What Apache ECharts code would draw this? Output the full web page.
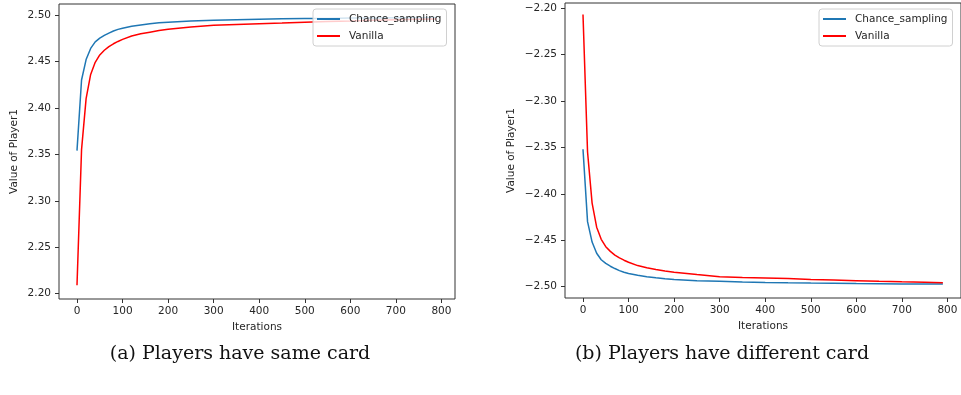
<!DOCTYPE html>
<html>
<head>
<meta charset="utf-8">
<script src="https://cdn.jsdelivr.net/npm/echarts@6/dist/echarts.min.js"></script>
<style>
  html, body { margin: 0; padding: 0; background: #fff; }
  #main { width: 961px; height: 395px; }
</style>
</head>
<body>
<div id="main"></div>
<script>
var iterations = [0, 10, 20, 30, 40, 50, 60, 70, 80, 90, 100, 120, 140, 160, 180, 200,
  250, 300, 350, 400, 450, 500, 550, 600, 650, 700, 750, 790];

// (a) players have same card
var chanceSame = [2.354, 2.430, 2.452, 2.464, 2.471, 2.475, 2.478, 2.4805, 2.4827, 2.4845, 2.4858,
  2.4878, 2.4893, 2.4905, 2.4915, 2.4922, 2.4935, 2.4943, 2.4949, 2.4954, 2.4958, 2.4961,
  2.4963, 2.4966, 2.4968, 2.4970, 2.4971, 2.4972];
var vanillaSame = [2.209, 2.355, 2.410, 2.436, 2.449, 2.457, 2.462, 2.466, 2.469, 2.4715, 2.4737,
  2.4773, 2.4797, 2.4815, 2.4832, 2.4845, 2.4870, 2.4888, 2.4897, 2.4905, 2.4913, 2.4922,
  2.4929, 2.4935, 2.4942, 2.4948, 2.4953, 2.4957];

// (b) players have different card
var chanceDiff = [-2.352, -2.430, -2.452, -2.464, -2.471, -2.475, -2.478, -2.4805, -2.4827, -2.4845, -2.4858,
  -2.4878, -2.4893, -2.4905, -2.4915, -2.4922, -2.4935, -2.4941, -2.4949, -2.4954, -2.4958, -2.4961,
  -2.4963, -2.4966, -2.4968, -2.4970, -2.4971, -2.4972];
var vanillaDiff = [-2.207, -2.355, -2.410, -2.436, -2.449, -2.457, -2.462, -2.466, -2.469, -2.4715, -2.4737,
  -2.4773, -2.4797, -2.4815, -2.4832, -2.4845, -2.4870, -2.4893, -2.4900, -2.4906, -2.4913, -2.4922,
  -2.4929, -2.4935, -2.4942, -2.4948, -2.4953, -2.4958];

var xTicks = [0, 100, 200, 300, 400, 500, 600, 700, 800];
var yTicksSame = [2.20, 2.25, 2.30, 2.35, 2.40, 2.45, 2.50];
var yTicksDiff = [-2.50, -2.45, -2.40, -2.35, -2.30, -2.25, -2.20];

var seriesNames = ['Chance_sampling', 'Vanilla'];
var captions = ['(a) Players have same card', '(b) Players have different card'];

var FONT = 'DejaVu Sans';
var TXT = '#262626';

function pairs(ys) {
  return iterations.map(function (x, i) { return [x, ys[i]]; });
}

function xAxisOf(gridIndex) {
  return {
    type: 'value', gridIndex: gridIndex,
    min: -39.5, max: 829.8,
    name: 'Iterations', nameLocation: 'middle', nameGap: 23,
    nameTextStyle: { fontFamily: FONT, fontSize: 10.5, color: TXT },
    axisLine: { show: false, onZero: false },
    axisTick: { show: true, length: 4, lineStyle: { color: '#333' }, customValues: xTicks },
    axisLabel: { fontFamily: FONT, fontSize: 10.5, color: TXT, margin: 7, customValues: xTicks },
    splitLine: { show: false }
  };
}

function yAxisOf(gridIndex, min, max, ticks, gap, fmt) {
  return {
    type: 'value', gridIndex: gridIndex,
    min: min, max: max,
    name: 'Value of Player1', nameLocation: 'middle', nameGap: gap,
    nameTextStyle: { fontFamily: FONT, fontSize: 10.5, color: TXT },
    axisLine: { show: false, onZero: false },
    axisTick: { show: true, length: 4, lineStyle: { color: '#333' }, customValues: ticks },
    axisLabel: { fontFamily: FONT, fontSize: 10.5, color: TXT, margin: 8, customValues: ticks, formatter: fmt },
    splitLine: { show: false }
  };
}

function lineSeries(name, idx, ys, color) {
  return {
    name: name, type: 'line',
    xAxisIndex: idx, yAxisIndex: idx,
    data: pairs(ys),
    showSymbol: false, smooth: false,
    lineStyle: { color: color, width: 1.5 },
    itemStyle: { color: color },
    z: 2
  };
}

function legendOf(left) {
  return {
    orient: 'vertical', left: left, top: 9,
    data: seriesNames,
    icon: 'rect', itemWidth: 23, itemHeight: 2, itemGap: 5,
    padding: [4, 5, 4, 4],
    backgroundColor: 'rgba(255,255,255,0.8)',
    borderColor: '#d0d0d0', borderWidth: 1, borderRadius: 3,
    textStyle: { fontFamily: FONT, fontSize: 10.5, color: TXT, padding: [0, 0, 0, 4], lineHeight: 12 },
    selectedMode: false
  };
}

var chart = echarts.init(document.getElementById('main'));

var option = {
  animation: false,
  backgroundColor: '#ffffff',
  grid: [
    { left: 59, top: 4, width: 396, height: 295, show: true, borderColor: '#333', borderWidth: 1 },
    { left: 565, top: 3, width: 397, height: 295, show: true, borderColor: '#333', borderWidth: 1 }
  ],
  xAxis: [xAxisOf(0), xAxisOf(1)],
  yAxis: [
    yAxisOf(0, 2.1943, 2.5118, yTicksSame, 39, function (v) { return v.toFixed(2); }),
    yAxisOf(1, -2.5122, -2.1946, yTicksDiff, 48, function (v) { return '\u2212' + Math.abs(v).toFixed(2); })
  ],
  legend: [legendOf(313), legendOf(819)],
  series: [
    lineSeries(seriesNames[0], 0, chanceSame, '#1f77b4'),
    lineSeries(seriesNames[1], 0, vanillaSame, '#ff0000'),
    lineSeries(seriesNames[0], 1, chanceDiff, '#1f77b4'),
    lineSeries(seriesNames[1], 1, vanillaDiff, '#ff0000')
  ],
  // 子图标题放在底部
  graphic: [
    { type: 'text', x: 240, y: 354, style: { text: captions[0], fontFamily: 'DejaVu Serif', fontSize: 19, fill: '#111', align: 'center', verticalAlign: 'middle' } },
    { type: 'text', x: 722, y: 354, style: { text: captions[1], fontFamily: 'DejaVu Serif', fontSize: 19, fill: '#111', align: 'center', verticalAlign: 'middle' } }
  ]
};

chart.setOption(option);
</script>
</body>
</html>
